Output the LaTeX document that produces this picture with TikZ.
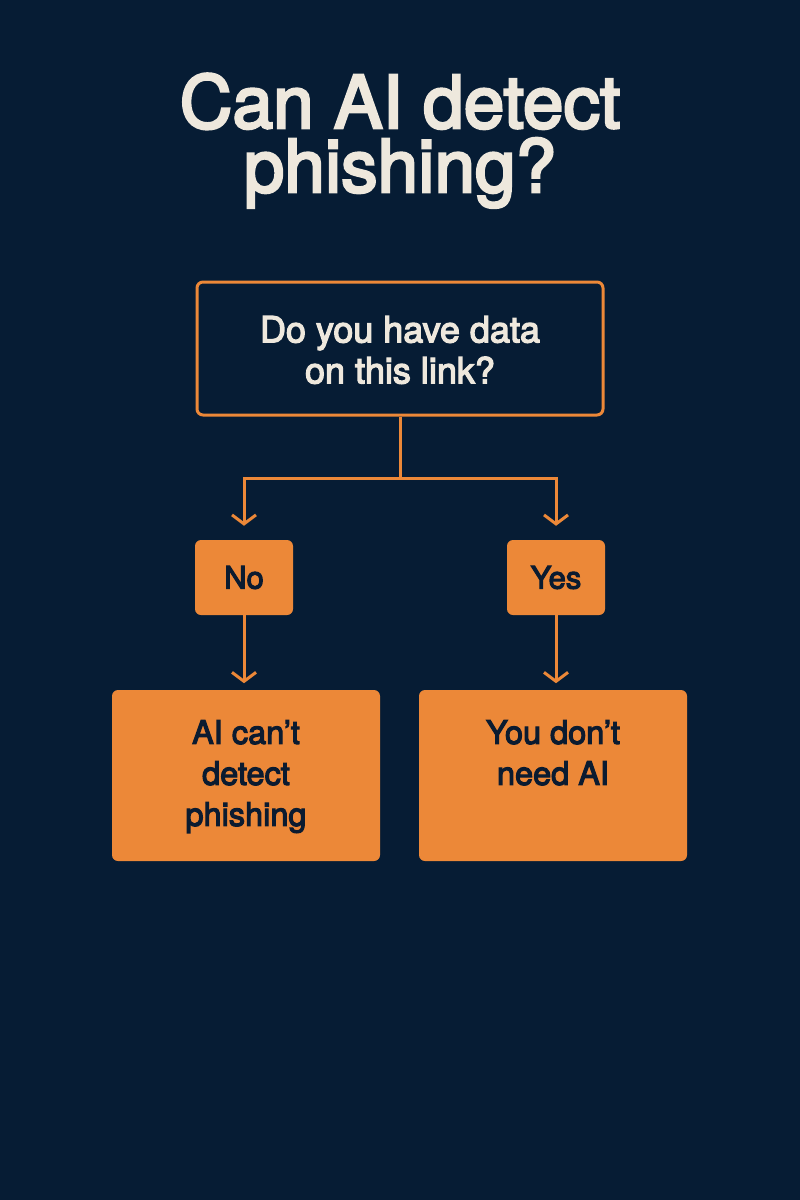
\documentclass[tikz,border=0pt]{standalone}
\usepackage{fontspec}
\setmainfont{TeX Gyre Heros}[FakeBold=3.5]
\usetikzlibrary{arrows.meta}
\definecolor{bg}{HTML}{061C34}
\definecolor{org}{HTML}{EC8838}
\definecolor{cream}{HTML}{EEE8DD}
\definecolor{ink}{HTML}{0B1B30}
\tikzset{
  titletext/.style={text=cream, inner sep=0pt, anchor=base, font=\fontsize{73}{65}\selectfont},
  qbox/.style={draw=org, line width=3pt, rounded corners=6pt, inner sep=0pt},
  ansbox/.style={fill=org, rounded corners=6pt, inner sep=0pt, text=ink, font=\fontsize{31}{36}\selectfont},
  outbox/.style={fill=org, rounded corners=6pt, inner sep=0pt},
  outtext/.style={text=ink, align=center, inner sep=0pt, font=\fontsize{32.5}{41}\selectfont},
  link/.style={draw=org, line width=3pt},
  arr/.style={draw=org, line width=3pt, -{Straight Barb[length=9pt,width=24pt,line width=3pt]}, shorten >=14pt},
}
\begin{document}
\begin{tikzpicture}[x=1pt,y=-1pt]
\fill[bg] (0,0) rectangle (800,1200);
\useasboundingbox (0,0) rectangle (800,1200);
\node[titletext] (title1) at (400,128) {Can AI detect};
\node[titletext] (title2) at (400,192) {phishing?};
\node[qbox, minimum width=406pt, minimum height=133pt] (q) at (400,348.5) {};
\node[text=cream, align=center, inner sep=0pt, font=\fontsize{36}{41}\selectfont] (qt) at (400,350) {Do you have data\\on this link?};
\node[ansbox, minimum width=98pt, minimum height=75pt] (no) at (244,577.5) {No};
\node[ansbox, minimum width=98pt, minimum height=75pt] (yes) at (556,577.5) {Yes};
\node[outbox, minimum width=268pt, minimum height=171pt] (o1) at (246,775.5) {};
\node[outbox, minimum width=268pt, minimum height=171pt] (o2) at (553,775.5) {};
\node[outtext, anchor=north] (o1t) at (246,720) {AI can’t\\detect\\phishing};
\node[outtext, anchor=north] (o2t) at (553,720) {You don’t\\need AI};
\coordinate (j) at (400,478);
\draw[link] (q.south) -- (j);
\draw[arr] (j) -| (no.north);
\draw[arr] (j) -| (yes.north);
\draw[arr] (no.south) -- ++(0,82) coordinate (n1);
\draw[arr] (yes.south) -- ++(0,82) coordinate (y1);
\end{tikzpicture}
\end{document}
